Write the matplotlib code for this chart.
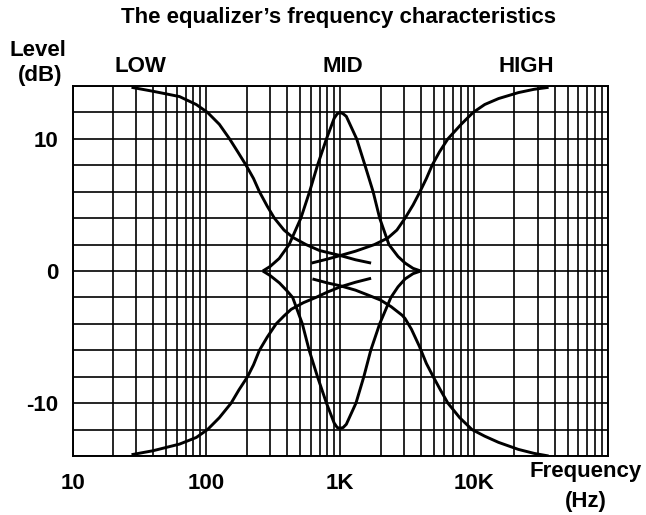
import matplotlib
matplotlib.use("Agg")
import matplotlib.pyplot as plt

plt.rcParams['font.family'] = ['Liberation Sans', 'DejaVu Sans']

# ---- data (frequency in Hz, level in dB) ----
low_boost_f = [27.6, 40, 63, 84, 102, 125, 149, 172, 198, 225, 249, 285, 322, 380, 441, 555, 700, 1000, 1300, 1700]
low_boost_db = [13.9, 13.6, 13.2, 12.6, 12.0, 11.1, 10.0, 9.0, 8.0, 7.0, 6.0, 4.9, 4.0, 3.1, 2.55, 2.0, 1.55, 1.17, 0.85, 0.6]

low_cut_f = [27.6, 40, 63, 84, 102, 125, 153, 175, 203, 225, 249, 285, 332, 380, 430, 530, 658, 800, 1000, 1300, 1700]
low_cut_db = [-13.9, -13.6, -13.1, -12.6, -12.0, -11.1, -10.0, -9.0, -8.0, -7.1, -6.0, -5.0, -4.0, -3.4, -2.9, -2.4, -2.0, -1.6, -1.2, -0.85, -0.55]

high_boost_f = [610, 800, 1000, 1300, 1800, 2270, 2650, 3050, 3500, 3940, 4400, 4855, 5500, 6370, 8000, 9830, 12000, 15230, 21400, 28000, 36000]
high_boost_db = [0.6, 0.9, 1.17, 1.5, 2.0, 2.5, 3.1, 4.0, 5.0, 6.0, 7.0, 8.0, 9.0, 10.0, 11.1, 12.0, 12.6, 13.05, 13.5, 13.75, 13.9]

high_cut_f = [620, 800, 1000, 1300, 1640, 2000, 2400, 2900, 3050, 3400, 3900, 4400, 4950, 5600, 6370, 7800, 9640, 12000, 15230, 21400, 28000, 36000]
high_cut_db = [-0.6, -0.9, -1.12, -1.45, -1.85, -2.2, -2.7, -3.35, -3.6, -4.4, -5.7, -7.0, -8.0, -9.0, -10.0, -11.1, -12.0, -12.5, -12.97, -13.5, -13.8, -14.0]

mid_boost_f = [264, 300, 350, 415, 508, 590, 676, 789, 900, 950, 1000, 1050, 1110, 1326, 1530, 1760, 1970, 2310, 2700, 3050, 3500, 3990]
mid_boost_db = [0.0, 0.35, 0.95, 2.0, 4.0, 6.0, 8.0, 10.0, 11.55, 11.9, 12.0, 11.9, 11.7, 10.0, 8.0, 6.0, 4.0, 2.0, 1.1, 0.6, 0.2, 0.0]

mid_cut_f = [264, 300, 351, 400, 441, 521, 586, 676, 789, 900, 950, 1000, 1050, 1110, 1310, 1500, 1690, 1970, 2390, 2700, 3050, 3500, 3990]
mid_cut_db = [0.0, -0.35, -0.9, -1.5, -2.0, -4.0, -6.0, -8.0, -10.0, -11.5, -11.85, -11.9, -11.85, -11.6, -10.0, -8.0, -6.0, -4.0, -2.0, -1.2, -0.6, -0.2, 0.0]

x_tick_vals = [10, 100, 1000, 10000]
x_tick_labels = ["10", "100", "1K", "10K"]
y_tick_vals = [-10, 0, 10]
y_tick_labels = ["-10", "0", "10"]
band_labels = ["LOW", "MID", "HIGH"]

W, H = 646, 515
fig = plt.figure(figsize=(W / 100, H / 100), dpi=100)
fig.patch.set_facecolor("white")

def fx(px):
    return px / W

def fy(py):
    return 1 - py / H

ax = fig.add_axes([fx(72.5), fy(456), fx(608) - fx(72.5), fy(86) - fy(456)])
ax.set_xscale("log")
ax.set_xlim(10, 100000)
ax.set_ylim(-14, 14)

# grid
minor_x = [m * 10 ** d for d in range(1, 5) for m in range(2, 10)]
ax.set_xticks(x_tick_vals + [100000])
ax.set_xticks(minor_x, minor=True)
ax.set_xticklabels(x_tick_labels + [""])
ax.set_yticks(y_tick_vals)
ax.set_yticks(list(range(-14, 15, 2)), minor=True)
ax.set_yticklabels(y_tick_labels)
ax.grid(True, which="both", color="black", linewidth=1.2)
ax.set_axisbelow(True)
ax.tick_params(which="both", length=0)
ax.tick_params(axis="x", pad=12, labelsize=16)
ax.tick_params(axis="y", pad=10, labelsize=16)
for lab in ax.get_xticklabels() + ax.get_yticklabels():
    lab.set_fontweight("bold")
for s in ax.spines.values():
    s.set_color("black")
    s.set_linewidth(1.4)

curves = [
    (low_boost_f, low_boost_db), (low_cut_f, low_cut_db),
    (high_boost_f, high_boost_db), (high_cut_f, high_cut_db),
    (mid_boost_f, mid_boost_db), (mid_cut_f, mid_cut_db),
]
for f, db in curves:
    ax.plot(f, db, color="black", linewidth=2.1, solid_capstyle="butt", solid_joinstyle="round")

kw = dict(fontsize=16, fontweight="bold", ha="center", va="center")
fig.text(fx(339), fy(18), "The equalizer\u2019s frequency characteristics", **kw)
fig.text(fx(38), fy(50), "Level", **kw)
fig.text(fx(40), fy(76), "(dB)", **kw)
for lbl, px in zip(band_labels, [140, 343, 526]):
    fig.text(fx(px), fy(67), lbl, **kw)
fig.text(fx(586), fy(472), "Frequency", **kw)
fig.text(fx(586), fy(501), "(Hz)", **kw)

fig.savefig("out.png", dpi=100, facecolor="white")
